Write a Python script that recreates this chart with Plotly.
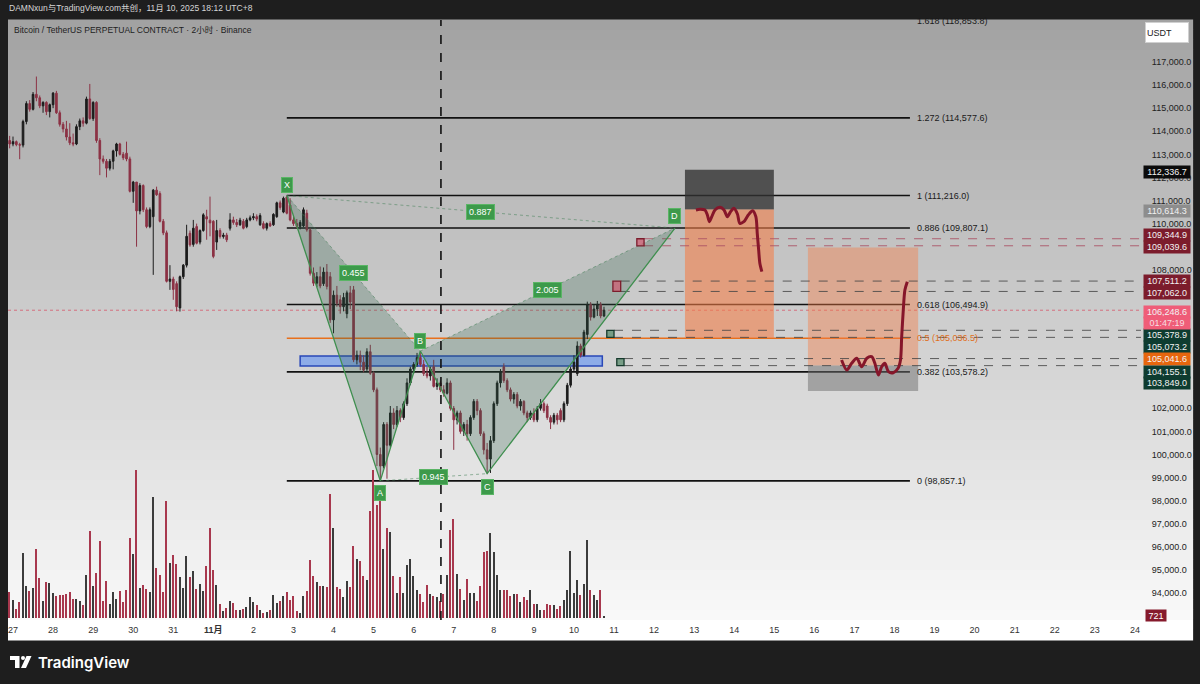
import plotly.graph_objects as go
import pandas as pd

FONT = "Liberation Sans, Noto Sans CJK SC, sans-serif"

# ---------------- data ----------------
bar_start = "2025-10-26 22:00"   # 2h bars
opens = [113600,113450,113550,113420,113400,114420,115200,114950,115600,115450,
         115100,115250,114850,115150,115650,114800,114300,114100,113750,113500,
         113450,114200,114450,114350,115400,114550,115250,113600,112800,112700,
         112400,112700,113150,113450,113000,113050,112800,111400,111800,110550,
         111650,110600,109870,110300,111450,111300,110100,109600,107500,107600,
         107400,106350,107700,108200,109580,109100,109870,109200,109700,110300,
         110150,110100,109200,109700,109440,109500,109800,110160,110050,109950,
         110100,109870,110160,110250,110300,109950,110000,109800,110000,109950,
         110300,110900,110500,111150,110800,110160,110000,109880,109900,110450,
         109730,107850,107420,107700,107400,107900,107700,105830,106900,106700,
         106400,106100,107000,107130,104100,104300,104000,103700,104450,103520,
         102800,100000,99500,101300,100400,101800,101300,101900,101600,102200,
         103100,103700,103900,104200,103900,103500,103400,103800,102950,103100,
         102800,102650,103100,102000,101500,101800,101000,101300,100900,101600,
         102300,101900,100900,100200,99800,100600,102200,103100,103800,103200,
         102800,102400,102600,102100,102300,101800,101600,101800,101500,102000,
         102200,102100,101600,101400,101700,101900,101500,102200,103000,103700,
         103500,104700,104300,105200,106500,105950,106300,106500,106000]
highs = [113800,113770,113600,113500,114500,115300,115350,115700,116370,115550,
         115300,115300,115200,115700,115750,114900,114400,114450,114350,113900,
         114300,114550,114600,115500,116050,115300,115300,113700,112950,112800,
         112800,113200,113500,113500,113100,113550,112900,111850,111800,111750,
         111700,110700,110700,111500,111600,111400,110200,109700,108200,107700,
         107500,107750,108250,109950,109700,110160,110000,109750,110450,110600,
         111170,110150,110160,109800,109600,109600,110450,110300,110200,110250,
         110200,110250,110350,110450,110400,110450,110100,110050,110100,110450,
         110950,111000,111170,111216,111100,110300,110200,110150,110700,110600,
         109800,108100,107900,108140,108100,108250,107900,107100,107300,106900,
         107000,107100,107300,107300,104500,104500,104300,104600,104750,103600,
         102900,100300,101400,101400,102100,102000,102100,102000,102300,103300,
         103800,104000,104400,104480,104100,103800,103800,104100,103300,103200,
         103000,103300,103200,102100,101900,101900,101400,101500,101700,102400,
         102400,102000,101000,100500,100800,102300,103200,103700,103950,103300,
         102900,102700,102700,102400,102350,101900,101900,102000,102100,102400,
         102300,102200,101700,101800,101800,102000,102300,103100,103800,104300,
         104900,104800,105400,106620,106600,106500,106650,106600,106400]
lows = [113260,113350,113350,112790,113300,114300,114850,114900,115300,115000,
        114800,114700,114600,115000,114750,114200,113950,113600,113400,113350,
        113400,114050,114200,114300,114500,114450,113500,112100,112600,112000,
        112300,112350,112900,112950,112750,112700,111350,110900,109000,110400,
        110500,109800,109800,107780,111200,110050,109500,107450,107130,106700,
        106200,106190,107600,108100,109000,109000,109100,109100,109650,109300,
        109450,108500,108860,109350,109350,109200,109700,109950,109850,109900,
        109750,109800,110100,110150,110100,109900,109750,109700,109850,109900,
        110250,110600,110450,110400,110100,109900,109800,109750,109850,109650,
        107750,107300,107250,107200,107300,107150,105700,105250,106400,106100,
        106200,105900,106300,104000,103900,103650,103550,103600,103450,102700,
        99500,98857,99400,98950,100300,101100,101200,101400,101500,102100,
        103000,103500,103800,103800,103400,103300,103200,102900,102800,102700,
        102500,102600,101900,100200,101300,100900,100800,100600,100800,101500,
        101700,100800,100000,99170,99200,100500,102100,102900,103100,102700,
        102300,102200,102000,101900,101700,101400,101500,101400,101400,101900,
        101800,101500,101100,101300,101300,101400,101400,102100,102900,103600,
        103400,104200,104250,105000,105800,105900,106000,105900,105950]
closes = [113450,113550,113420,113400,114420,115200,114950,115600,115450,115100,
          115250,114850,115150,115650,114800,114300,114100,113750,113500,113450,
          114200,114450,114350,115400,114550,115250,113600,112800,112700,112400,
          112700,113150,113450,113000,112850,112800,111400,111800,110550,111650,
          110600,109870,110600,111450,111250,110100,109600,107500,107600,107150,
          106400,107700,108200,109450,109080,109800,109150,109700,110380,110200,
          110030,108580,109700,109440,109500,109300,110160,110050,109950,110150,
          109800,110160,110250,110300,110200,110350,109800,110000,109900,110400,
          110900,110700,111100,110450,110160,110000,109880,110050,110600,109730,
          107850,107420,107700,107300,107900,107280,105830,106900,106550,106400,
          106800,107000,106600,104100,104300,104000,103650,104450,103520,102800,
          100000,99500,101300,100400,101800,101300,101900,101600,102200,103100,
          103700,103900,104200,103900,103500,103400,103700,102950,103100,102800,
          102650,103100,102000,101500,101800,101000,101300,100900,101600,102300,
          101900,100900,100200,99800,100600,102200,103100,103600,103200,102800,
          102400,102600,102100,102300,101800,101600,101800,101500,102000,102200,
          101900,101600,101400,101700,101500,101500,102200,103000,103700,104000,
          104700,104300,105300,106500,105950,106300,106500,106000,106248.6]
volumes = [7700,5500,2800,4700,19500,9500,8000,9000,20700,12000,
           5200,10900,10500,7500,6500,7000,7000,7100,7700,5700,
           5700,5000,3900,13000,26200,9500,13500,23200,5000,11200,
           4300,7900,5800,8100,4700,8300,24000,19200,44700,9000,
           9900,8800,7700,36500,15200,13000,7900,35200,16500,19100,
           16300,12400,9100,18700,12300,14300,8800,10300,8100,15600,
           27000,14500,9900,4300,2100,3000,5200,4500,2400,2500,
           2600,3300,6200,4800,4000,2300,1500,1800,2300,7000,
           4500,5100,6500,7800,5400,6600,2000,1400,6700,8200,
           17500,12700,10900,9500,9700,9200,37200,27000,9400,8600,
           6400,11100,9300,21700,17700,17200,12500,11400,32300,44500,
           34000,35500,20900,27200,26000,12500,7400,12300,7500,15900,
           17800,12500,8300,7200,4700,9800,7100,6700,6200,5000,
           7200,12900,26400,29700,13100,8700,5300,11800,7400,7400,
           5200,9500,20000,20300,25500,20000,13000,8500,8400,8500,
           6500,7100,7300,4800,6400,5400,8300,4300,4300,2400,
           2400,4100,4000,3900,2600,3700,5500,8500,20100,7400,
           11500,7000,10100,23400,8300,6900,5500,8500,721]

date_ticks = pd.date_range("2025-10-27", "2025-11-24", freq="D")
date_labels = ["27", "28", "29", "30", "31", "<b>11月</b>", "2", "3", "4", "5", "6", "7", "8",
               "9", "10", "11", "12", "13", "14", "15", "16", "17", "18", "19", "20",
               "21", "22", "23", "24"]
# price-scale labels that are not hidden behind the price tags
price_ticks = [94000, 95000, 96000, 97000, 98000, 99000, 100000, 101000, 102000,
               108000, 110000, 111000, 112000, 113000, 114000, 115000, 116000, 117000]

fib_levels = ["1.618", "1.272", "1", "0.886", "0.618", "0.5", "0.382", "0"]
fib_prices = [118853.8, 114577.6, 111216.0, 109807.1, 106494.9, 105036.5, 103578.2, 98857.1]
fib_start = "2025-11-02 20:00"
fib_end = "2025-11-18 09:15"

pat_names = ["X", "A", "B", "C", "D"]
pat_times = ["2025-11-02 20:00", "2025-11-05 04:00", "2025-11-06 04:00",
             "2025-11-07 20:00", "2025-11-12 12:30"]
pat_prices = [111216.0, 98857.1, 104480.0, 99170.0, 109807.0]
pat_ratio_pairs = [("X", "B", "0.455"), ("X", "D", "0.887"), ("B", "D", "2.005"), ("A", "C", "0.945")]

zone_times = ["2025-11-03 04:00", "2025-11-10 17:00"]
zone_prices = [103832, 104266]

vline_time = "2025-11-06 16:20"
last_price = 106248.6
countdown = "01:47:19"

# order marks (time span, low, high, kind)
mark_t0 = ["2025-11-11 13:40", "2025-11-10 23:20", "2025-11-10 19:40", "2025-11-11 01:40"]
mark_t1 = ["2025-11-11 18:00", "2025-11-11 04:00", "2025-11-11 00:00", "2025-11-11 06:00"]
mark_lo = [109039.6, 107062.0, 105073.2, 103849.0]
mark_hi = [109344.9, 107511.2, 105378.9, 104155.1]
mark_kind = ["sell", "sell", "buy", "buy"]

# position tools
pos1_t = ["2025-11-12 18:30", "2025-11-14 23:45"]
pos1_stop, pos1_entry, pos1_target = 112336.7, 110614.3, 105041.6
pos2_t = ["2025-11-15 20:10", "2025-11-18 14:10"]
pos2_stop, pos2_entry, pos2_target = 102750.0, 103849.0, 108970.0

# freehand brush strokes (days after 27 Oct 00:00, price)
brush1_days = [17.045, 17.145, 17.27, 17.33, 17.38, 17.44, 17.52, 17.645, 17.745, 17.83, 17.91,
               17.99, 18.08, 18.14, 18.24, 18.35, 18.46, 18.54, 18.575, 18.61, 18.64, 18.69]
brush1_prices = [110590, 110620, 110590, 110373, 110083, 110300, 110590, 110707, 110590, 110300,
                 110517, 110663, 110417, 110013, 110083, 110373, 110560, 110300, 109582, 108860,
                 108284, 107920]
brush2_days = [20.68, 20.81, 20.93, 21.06, 21.18, 21.31, 21.43, 21.51, 21.60, 21.68, 21.76, 21.85,
               21.97, 22.09, 22.15, 22.18, 22.22, 22.26, 22.32]
brush2_prices = [104092, 103659, 103949, 104166, 103802, 104166, 104235, 103949, 103443, 103802,
                 103949, 103586, 103542, 103733, 104092, 105102, 106258, 107124, 107484]

axis_tags = [112336.7, 110614.3, 109344.9, 109039.6, 107511.2, 107062.0,
             106248.6, 105378.9, 105073.2, 105041.6, 104155.1, 103849.0]
tag_colors = ["#0b0b0b", "#8d8d8d", "#7c1c2c", "#7c1c2c", "#7c1c2c", "#7c1c2c",
              "#ef5d78", "#0e3c30", "#0e3c30", "#e6660e", "#0e3c30", "#0e3c30"]
tag_shift = [-2, -1.5, 3.5, -1.5, 0, -1.5, -2, -4.5, -9.5, -21, -13, -17.5]

n = len(closes)
for arr in (opens, highs, lows, volumes):
    if len(arr) != n:
        raise ValueError(f"length mismatch {len(arr)} vs {n}")

times = pd.date_range(bar_start, periods=n, freq="2h")
day0 = pd.Timestamp("2025-10-27")

# ---------------- figure ----------------
fig = go.Figure()

# gradient background
shapes = []
NB = 60
for k in range(NB):
    f = (k + 0.5) / NB
    c = int(250 - (250 - 162) * f)
    shapes.append(dict(type="rect", xref="paper", yref="paper", x0=0, x1=1.046,
                       y0=k / NB, y1=(k + 1) / NB + 0.001, fillcolor=f"rgb({c},{c},{c})",
                       line=dict(width=0), layer="below"))
shapes.append(dict(type="rect", xref="paper", yref="paper", x0=0, x1=1.046, y0=-0.034, y1=0,
                   fillcolor="#ffffff", line=dict(width=0), layer="below"))

# volume
vol_colors = ["#a8384e" if c < o else "#3c3c3c" for o, c in zip(opens, closes)]
fig.add_trace(go.Bar(x=times, y=volumes, marker=dict(color=vol_colors, line=dict(width=0)),
                     width=2 * 3600 * 1000 * 0.45, yaxis="y2", hoverinfo="skip", showlegend=False))

# pattern triangles
pt = {nm: (pd.Timestamp(t), p) for nm, t, p in zip(pat_names, pat_times, pat_prices)}
for tri in (("X", "A", "B"), ("B", "C", "D")):
    xs = [pt[k][0] for k in tri] + [pt[tri[0]][0]]
    ys = [pt[k][1] for k in tri] + [pt[tri[0]][1]]
    fig.add_trace(go.Scatter(x=xs, y=ys, fill="toself", fillcolor="rgba(45,95,75,0.26)",
                             mode="lines", line=dict(width=0), hoverinfo="skip", showlegend=False))

# candles
fig.add_trace(go.Candlestick(x=times, open=opens, high=highs, low=lows, close=closes,
                             increasing=dict(line=dict(color="#1c1c1c", width=1), fillcolor="#1c1c1c"),
                             decreasing=dict(line=dict(color="#8c3245", width=1), fillcolor="#8c3245"),
                             whiskerwidth=0, showlegend=False, hoverinfo="skip"))

# pattern legs
fig.add_trace(go.Scatter(x=[pt[k][0] for k in pat_names], y=[pt[k][1] for k in pat_names],
                         mode="lines", line=dict(color="#3f8f4f", width=1.3),
                         hoverinfo="skip", showlegend=False))
for a, b, _ in pat_ratio_pairs:
    fig.add_trace(go.Scatter(x=[pt[a][0], pt[b][0]], y=[pt[a][1], pt[b][1]], mode="lines",
                             line=dict(color="rgba(70,130,90,0.55)", width=1, dash="dot"),
                             hoverinfo="skip", showlegend=False))

# brush strokes
for bd, bp in ((brush1_days, brush1_prices), (brush2_days, brush2_prices)):
    bx = [day0 + pd.to_timedelta(d, unit="D") for d in bd]
    fig.add_trace(go.Scatter(x=bx, y=bp, mode="lines",
                             line=dict(color="#86162a", width=3, shape="spline", smoothing=0.8),
                             hoverinfo="skip", showlegend=False))

x_left = pd.Timestamp("2025-10-26 21:00")
x_right = pd.Timestamp("2025-11-24 03:40")

# zone rectangle
shapes.append(dict(type="rect", xref="x", yref="y", x0=zone_times[0], x1=zone_times[1],
                   y0=zone_prices[0], y1=zone_prices[1], fillcolor="rgba(95,145,245,0.6)",
                   line=dict(color="#2a48b8", width=1.5), layer="below"))

# fib lines
for lv, p in zip(fib_levels, fib_prices):
    col = "#e8701c" if lv == "0.5" else "#111111"
    if lv != "1.618":
        shapes.append(dict(type="line", xref="x", yref="y", x0=fib_start, x1=fib_end, y0=p, y1=p,
                           line=dict(color=col, width=1.6), layer="below"))

# current price dotted line
shapes.append(dict(type="line", xref="paper", yref="y", x0=0, x1=1, y0=last_price, y1=last_price,
                   line=dict(color="rgba(215,80,100,0.75)", width=1, dash="dot"), layer="below"))

# vertical dashed line
shapes.append(dict(type="line", xref="x", yref="paper", x0=vline_time, x1=vline_time, y0=0, y1=1,
                   line=dict(color="#111111", width=1.6, dash="dash"), layer="above"))

# position tools
shapes.append(dict(type="rect", xref="x", yref="y", x0=pos1_t[0], x1=pos1_t[1], y0=pos1_entry,
                   y1=pos1_stop, fillcolor="rgba(50,50,50,0.78)", line=dict(width=0), layer="below"))
shapes.append(dict(type="rect", xref="x", yref="y", x0=pos1_t[0], x1=pos1_t[1], y0=pos1_target,
                   y1=pos1_entry, fillcolor="rgba(245,125,70,0.58)", line=dict(width=0), layer="below"))
shapes.append(dict(type="rect", xref="x", yref="y", x0=pos2_t[0], x1=pos2_t[1], y0=pos2_entry,
                   y1=pos2_target, fillcolor="rgba(245,125,70,0.42)", line=dict(width=0), layer="below"))
shapes.append(dict(type="rect", xref="x", yref="y", x0=pos2_t[0], x1=pos2_t[1], y0=pos2_stop,
                   y1=pos2_entry, fillcolor="rgba(110,110,110,0.5)", line=dict(width=0), layer="below"))

# order marks + dashed levels
for t0, t1, lo, hi, kind in zip(mark_t0, mark_t1, mark_lo, mark_hi, mark_kind):
    if kind == "sell":
        fc, lc = "rgba(205,95,115,0.75)", "#7c1c2c"
    else:
        fc, lc = "rgba(90,140,110,0.75)", "#163a2c"
    dash_col = "rgba(170,80,100,0.85)" if lo == mark_lo[0] else "rgba(70,70,70,0.85)"
    shapes.append(dict(type="rect", xref="x", yref="y", x0=t0, x1=t1, y0=lo, y1=hi,
                       fillcolor=fc, line=dict(color=lc, width=1.3), layer="above"))
    for p in (lo, hi):
        shapes.append(dict(type="line", xref="x", yref="y", x0=t1, x1=x_right, y0=p, y1=p,
                           line=dict(color=dash_col, width=1, dash="dash"), layer="below"))

# TradingView logo glyph (pixel-sized, anchored under chart)
logo_y = -42 / 600
logo_common = dict(xref="paper", yref="paper", xsizemode="pixel", ysizemode="pixel",
                   xanchor=0, yanchor=logo_y, fillcolor="#ffffff", line=dict(width=0), layer="above")
shapes.append(dict(type="path", path="M 2,6 L 11.5,6 L 11.5,-6 L 7,-6 L 7,2 L 2,2 Z", **logo_common))
shapes.append(dict(type="circle", x0=13, x1=17, y0=6, y1=2, **logo_common))
shapes.append(dict(type="path", path="M 18.5,6 L 23.5,6 L 18,-6 L 13,-6 Z", **logo_common))

# ---------------- annotations ----------------
ann = []
for lv, p in zip(fib_levels, fib_prices):
    col = "#e0701c" if lv == "0.5" else "#1a1a1a"
    if lv == "1.618":
        ann.append(dict(x=fib_end, y=1, xref="x", yref="paper", text=f"{lv} ({p:,.1f})",
                        showarrow=False, xanchor="left", yanchor="middle", xshift=5, yshift=-1,
                        font=dict(size=9, color=col, family=FONT)))
    else:
        ann.append(dict(x=fib_end, y=p, xref="x", yref="y", text=f"{lv} ({p:,.1f})", showarrow=False,
                        xanchor="left", yanchor="middle", xshift=5,
                        font=dict(size=9, color=col, family=FONT)))

lab_style = dict(showarrow=False, bgcolor="#3d9a4b", bordercolor="#5ab565", borderwidth=1,
                 borderpad=2, font=dict(size=9, color="#ffffff", family=FONT))
lab_off = {"X": 11, "A": -12, "B": 10, "C": -13, "D": 12}
for nm in pat_names:
    t, p = pt[nm]
    ann.append(dict(x=t, y=p, xref="x", yref="y", text=nm, yshift=lab_off[nm], **lab_style))
for a, b, txt in pat_ratio_pairs:
    ta, pa = pt[a]
    tb, pb = pt[b]
    ann.append(dict(x=ta + (tb - ta) / 2, y=(pa + pb) / 2, xref="x", yref="y", text=txt, **lab_style))

for v, c, s in zip(axis_tags, tag_colors, tag_shift):
    ann.append(dict(x=1, y=v, xref="paper", yref="y", text=f"{v:,.1f}", showarrow=False,
                    xanchor="left", yanchor="middle", xshift=2, yshift=s, width=44, height=10,
                    borderpad=1, bgcolor=c, align="center",
                    font=dict(size=9, color="#f2f2f2", family=FONT)))
ann.append(dict(x=1, y=last_price, xref="paper", yref="y", text=countdown, showarrow=False,
                xanchor="left", yanchor="middle", xshift=2, yshift=-13, width=44, height=10,
                borderpad=1, bgcolor="#ef5d78", align="center",
                font=dict(size=9, color="#f6dde2", family=FONT)))
ann.append(dict(x=1, y=volumes[-1], xref="paper", yref="y2", text=f"{volumes[-1]}", showarrow=False,
                xanchor="left", yanchor="middle", xshift=4, width=18, height=9, borderpad=1,
                bgcolor="#861a2c", font=dict(size=9, color="#ffffff", family=FONT)))
ann.append(dict(x=1, y=1 - 12 / 600, xref="paper", yref="paper", text="USDT", showarrow=False,
                xanchor="left", yanchor="middle", xshift=4, width=40, height=17, borderpad=1,
                bgcolor="#ffffff", bordercolor="#d0d0d0", borderwidth=1, align="left",
                font=dict(size=9, color="#222222", family=FONT)))
ann.append(dict(x=0, y=1 + 12 / 600, xref="paper", yref="paper",
                text="DAMNxun与TradingView.com共创，11月 10, 2025 18:12 UTC+8", showarrow=False,
                xanchor="left", yanchor="middle", xshift=-1,
                font=dict(size=8.5, color="#d6d6d6", family=FONT)))
ann.append(dict(x=0, y=1 - 10 / 600, xref="paper", yref="paper",
                text="Bitcoin / TetherUS PERPETUAL CONTRACT · 2小时 · Binance", showarrow=False,
                xanchor="left", yanchor="middle", xshift=4,
                font=dict(size=8.5, color="#1e1e1e", family=FONT)))
ann.append(dict(x=0, y=-42 / 600, xref="paper", yref="paper", text="TradingView", showarrow=False,
                xanchor="left", yanchor="middle", xshift=28,
                font=dict(size=15, color="#ffffff", family="Inter, Lato, sans-serif", weight=600)))

fig.update_layout(
    width=1200, height=684,
    margin=dict(l=8, r=59, t=20, b=64),
    paper_bgcolor="#1e1e1e", plot_bgcolor="rgba(0,0,0,0)",
    shapes=shapes, annotations=ann, showlegend=False, bargap=0,
    xaxis=dict(type="date", range=[x_left, x_right], tickvals=list(date_ticks), ticktext=date_labels,
               showgrid=False, zeroline=False, showline=False, ticks="", rangeslider=dict(visible=False),
               ticklabelstandoff=3,
               tickfont=dict(size=9, color="#333333", family=FONT), fixedrange=True),
    yaxis=dict(side="right", range=[92831, 118819], tickvals=price_ticks, tickformat=",.1f",
               showgrid=False, zeroline=False, showline=False, ticks="outside", ticklen=8,
               tickcolor="rgba(0,0,0,0)", tickfont=dict(size=9, color="#222222", family=FONT)),
    yaxis2=dict(overlaying="y", range=[-600, 180000], visible=False, fixedrange=True),
)

fig.write_html("out.html", config={"displayModeBar": False},
               post_script="document.body.style.margin='0';document.body.style.background='#1e1e1e';")
